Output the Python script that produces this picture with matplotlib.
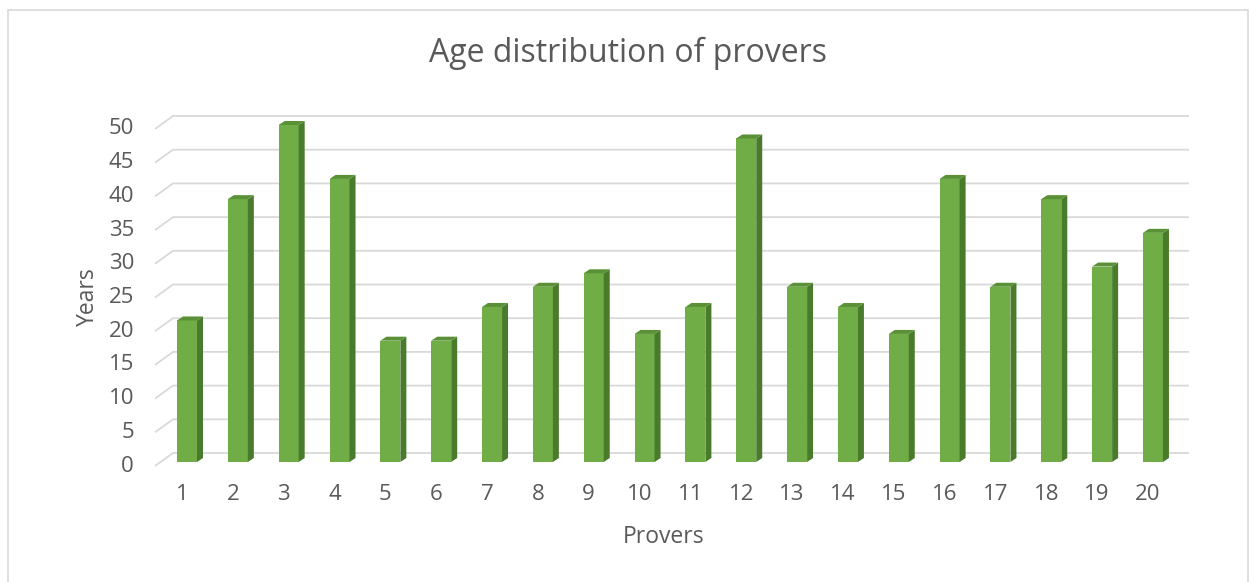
import matplotlib.pyplot as plt
from matplotlib.patches import Polygon, Rectangle

provers = list(range(1, 21))
ages = [21, 39, 50, 42, 18, 18, 23, 26, 28, 19, 23, 48, 26, 23, 19, 42, 26, 39, 29, 34]
yticks = [0, 5, 10, 15, 20, 25, 30, 35, 40, 45, 50]

front_col = '#70AD47'
side_col = '#4A7A2C'
top_col = '#5A9136'
grid_col = '#D9D9D9'
text_col = '#595959'
font = 'Open Sans'

W, H = 1249, 582
fig = plt.figure(figsize=(W / 100, H / 100), dpi=100)
ax = fig.add_axes([0, 0, 1, 1])
ax.axis('off')

# pixel scale of the original picture
px_x = 50.84   # px per category
px_y = 6.74    # px per year
x0 = 1 - 187 / px_x
y0 = -(H - 462) / px_y
ax.set_xlim(x0, x0 + W / px_x)
ax.set_ylim(y0, y0 + H / px_y)

# 3d offsets (data units)
back_dy = 9 / px_y
front_dy = -4 / px_y
back_left = 1 - 14 / px_x
front_left = 1 - 32 / px_x
back_right = 1 + 1002 / px_x
bw = 20 / px_x
dep_x = 6 / px_x
dep_y = 4 / px_y

# gridlines on floor edge + back wall
for v in yticks:
    ax.plot([front_left, back_left, back_right],
            [v + front_dy, v + back_dy, v + back_dy],
            color=grid_col, lw=1.3, zorder=1, solid_capstyle='butt')

# bars
ax.bar(provers, ages, width=bw, color=front_col, zorder=3, linewidth=0)
for x, v in zip(provers, ages):
    r = x + bw / 2
    l = x - bw / 2
    side = [(r, 0), (r + dep_x, dep_y), (r + dep_x, v + dep_y), (r, v)]
    top = [(l, v), (r, v), (r + dep_x, v + dep_y), (l + dep_x, v + dep_y)]
    ax.add_patch(Polygon(side, closed=True, facecolor=side_col, edgecolor='none', zorder=3))
    ax.add_patch(Polygon(top, closed=True, facecolor=top_col, edgecolor='none', zorder=3))

# tick labels
lab_x = x0 + 134 / px_x
for v in yticks:
    ax.text(lab_x, v + front_dy, str(v), ha='right', va='center',
            fontsize=16, color=text_col, family=font)
for x in provers:
    ax.text(x - 5 / px_x, -32 / px_y, str(x), ha='center', va='center',
            fontsize=16, color=text_col, family=font)

fig.text(628 / W, 1 - 53 / H, 'Age distribution of provers', ha='center', va='center',
         fontsize=23, color=text_col, family=font)
fig.text(88 / W, 1 - 297 / H, 'Years', ha='center', va='center', rotation=90,
         fontsize=16.5, color=text_col, family=font)
fig.text(664 / W, 1 - 537 / H, 'Provers', ha='center', va='center',
         fontsize=16.5, color=text_col, family=font)

# chart border
fig.patches.append(Rectangle((7.5 / W, -0.05), (1247.5 - 7.5) / W, 1.05 - 9.5 / H,
                             transform=fig.transFigure, fill=False,
                             edgecolor=grid_col, lw=1.2))

fig.savefig('out.png', dpi=100, facecolor='white')
